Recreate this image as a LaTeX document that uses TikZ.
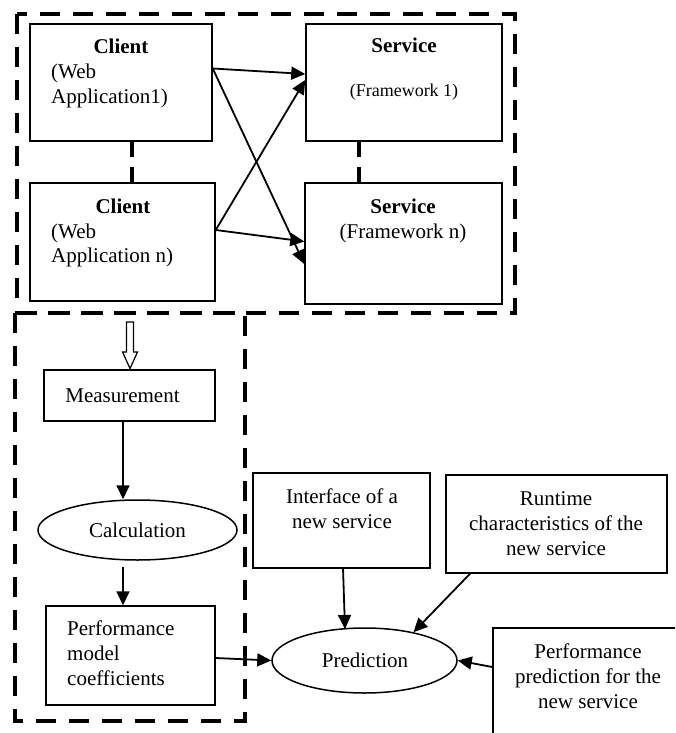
\documentclass[tikz,border=0pt]{standalone}
\usepackage{fontspec}
\setmainfont{Liberation Serif}
\usetikzlibrary{arrows.meta,shapes.geometric}
\begin{document}
\begin{tikzpicture}[x=1pt,y=-1pt,
  box/.style={draw,line width=1.5pt,rectangle,inner sep=0pt},
  ell/.style={draw,line width=1.5pt,ellipse,inner sep=0pt},
  arr/.style={line width=1.8pt,-{Triangle[length=14pt,width=13pt]}},
  frame/.style={line width=4pt,dash pattern=on 20pt off 13pt},
  dcon/.style={line width=4pt,dash pattern=on 16pt off 10pt},
  tx/.style={inner sep=0pt,anchor=base,font=\fontsize{21}{25}\selectfont},
  txl/.style={inner sep=0pt,anchor=base west,font=\fontsize{21}{25}\selectfont},
  txb/.style={inner sep=0pt,anchor=base,font=\fontsize{21}{25}\selectfont\bfseries}]
\useasboundingbox (0,0) rectangle (675,733);
\fill[white] (0,0) rectangle (675,733);
\clip (0,0) rectangle (675,733);

% group frames
\draw[frame] (17,14) rectangle (515,313);
\draw[frame] (15,313) rectangle (245,721);

% boxes
\node[box,minimum width=182pt,minimum height=117pt] (c1) at (121,82.5) {};
\node[box,minimum width=185pt,minimum height=118pt] (cn) at (122.5,242) {};
\node[box,minimum width=196pt,minimum height=117pt] (s1) at (404,82.5) {};
\node[box,minimum width=197pt,minimum height=121pt] (sn) at (403.5,243.5) {};
\node[box,minimum width=171pt,minimum height=51pt] (meas) at (129.5,395.5) {};
\node[ell,minimum width=199pt,minimum height=60pt] (calcn) at (137.5,530) {};
\node[box,minimum width=169pt,minimum height=99pt] (pmc) at (130.5,655.5) {};
\node[ell,minimum width=185pt,minimum height=65pt] (pred) at (364.5,660.5) {};
\node[box,minimum width=177pt,minimum height=95pt] (iface) at (341.5,520.5) {};
\node[box,minimum width=221pt,minimum height=98pt] (rt) at (556.5,524) {};
\node[box,minimum width=197pt,minimum height=122pt] (pp) at (591.5,689) {};

% texts
\node[txb] (t1) at (121,54) {Client};
\node[txl] (t2) at (51,79) {(Web};
\node[txl] (t3) at (51,103) {Application1)};
\node[txb] (t4) at (123,213) {Client};
\node[txl] (t5) at (51,238) {(Web};
\node[txl] (t6) at (51,262) {Application n)};
\node[txb] (t7) at (404,53) {Service};
\node[inner sep=0pt,anchor=base,font=\fontsize{18}{22}\selectfont] (t8) at (404,97) {(Framework 1)};
\node[txb] (t9) at (403,213) {Service};
\node[tx] (t10) at (403,238) {(Framework n)};
\node[tx] (t11) at (122.5,402) {Measurement};
\node[tx] (t12) at (137.5,537) {Calculation};
\node[txl] (t13) at (67,635) {Performance};
\node[txl] (t14) at (67,660) {model};
\node[txl] (t15) at (67,685) {coefficients};
\node[tx] (t16) at (365,667) {Prediction};
\node[tx] (t17) at (342,503) {Interface of a};
\node[tx] (t18) at (342,528) {new service};
\node[tx] (t19) at (556,505) {Runtime};
\node[tx] (t20) at (556,530) {characteristics of the};
\node[tx] (t21) at (556,555) {new service};
\node[tx] (t22) at (588,658) {Performance};
\node[tx] (t23) at (588,683) {prediction for the};
\node[tx] (t24) at (588,708) {new service};

% dashed links between stacked boxes
\coordinate (d1) at (132,141);
\coordinate (d2) at (359,141);
\draw[dcon] (d1) -- (d1 |- cn.north);
\draw[dcon] (d2) -- (d2 |- sn.north);

% client-service arrows
\draw[arr] ([yshift=14pt]c1.east) -- ([yshift=8.5pt]s1.west);
\draw[arr] ([yshift=14pt]c1.east) -- ([yshift=-20.5pt]sn.west);
\draw[arr] ([yshift=12pt]cn.east) -- ([yshift=2.5pt]s1.west);
\draw[arr] ([yshift=12pt]cn.east) -- ([yshift=2pt]sn.west);

% hollow arrow into Measurement
\draw[line width=1.2pt,fill=white] (126.5,322) -- (126.5,352) -- (122.5,352) -- (130,368.5) -- (137.5,352) -- (133.5,352) -- (133.5,322) -- cycle;

% workflow arrows
\coordinate (a0) at (123,421);
\draw[arr] (a0) -- (a0 |- calcn.north);
\coordinate (a1) at (123,567);
\draw[arr] (a1) -- (a1 |- pmc.north);
\draw[arr] ([yshift=-2.5pt]pmc.east) -- (pred.west);
\coordinate (a2) at (343,568);
\draw[arr] (a2) -- (345,629);
\draw[arr] ([xshift=-86.5pt]rt.south) -- (pred.30);
\draw[arr] ([yshift=22pt]pp.west) -- (pred.east);
\end{tikzpicture}
\end{document}
